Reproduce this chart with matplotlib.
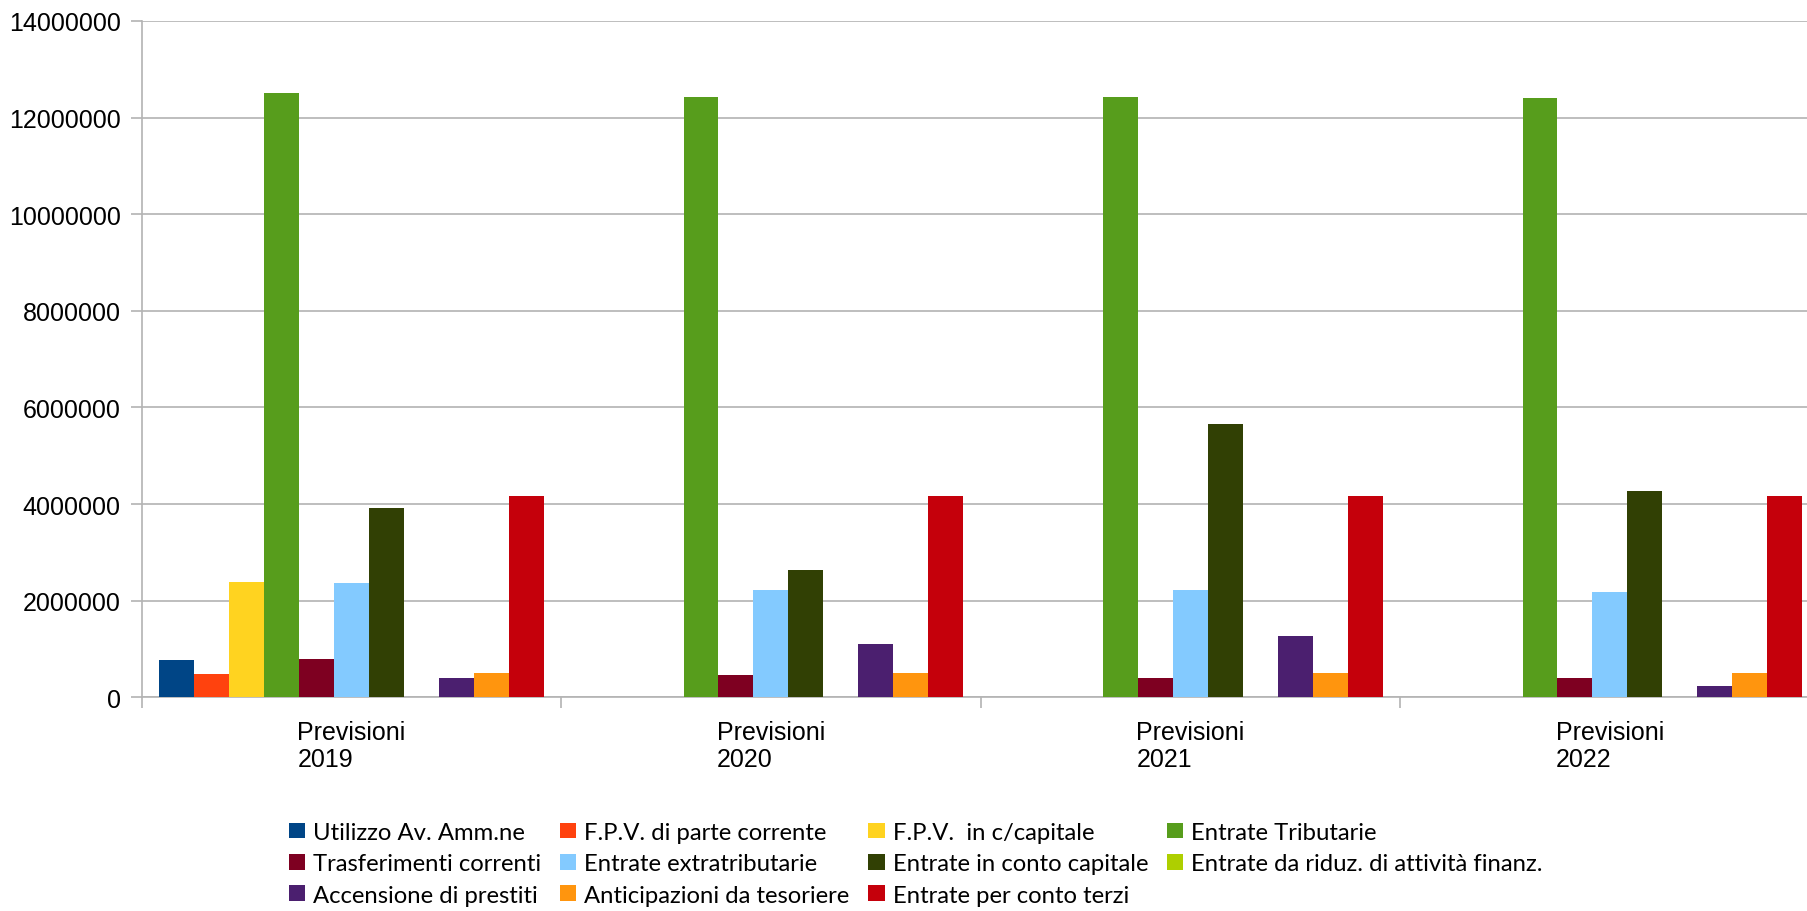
import numpy as np
import matplotlib
matplotlib.use('Agg')
import matplotlib.pyplot as plt

# categories and series
categories = ['Previsioni\n2019', 'Previsioni\n2020', 'Previsioni\n2021', 'Previsioni\n2022']
series_names = ['Utilizzo Av. Amm.ne', 'F.P.V. di parte corrente', 'F.P.V.  in c/capitale',
                'Entrate Tributarie', 'Trasferimenti correnti', 'Entrate extratributarie',
                'Entrate in conto capitale', 'Entrate da riduz. di attività finanz.',
                'Accensione di prestiti', 'Anticipazioni da tesoriere', 'Entrate per conto terzi']
series_colors = ['#004586', '#ff420e', '#ffd320', '#579d1c', '#7e0021', '#83caff',
                 '#314004', '#aecf00', '#4b1f6f', '#ff950e', '#c5000b']

utilizzo = [775000, 0, 0, 0]
fpv_corrente = [484000, 0, 0, 0]
fpv_capitale = [2388000, 0, 0, 0]
tributarie = [12509000, 12425000, 12425000, 12405000]
trasferimenti = [795000, 464000, 401000, 401000]
extratributarie = [2368000, 2223000, 2223000, 2181000]
conto_capitale = [3920000, 2637000, 5659000, 4271000]
riduz_attivita = [0, 0, 0, 0]
accensione = [401000, 1105000, 1271000, 236000]
anticipazioni = [505000, 505000, 505000, 505000]
conto_terzi = [4168000, 4168000, 4168000, 4168000]

values = [utilizzo, fpv_corrente, fpv_capitale, tributarie, trasferimenti, extratributarie,
          conto_capitale, riduz_attivita, accensione, anticipazioni, conto_terzi]

fig = plt.figure(figsize=(18.07, 9.12), dpi=100)
ax = fig.add_axes([0.0784, 0.2342, 0.9286, 0.7418])

x = np.arange(len(categories))
n = len(values)
w = 1.0 / (n + 1)
handles = []
for i, (name, vals, col) in enumerate(zip(series_names, values, series_colors)):
    b = ax.bar(x + (i - (n - 1) / 2) * w, vals, width=w, color=col, linewidth=0, label=name, zorder=3)
    handles.append(b)

ax.set_xlim(-0.5, len(categories) - 0.5)
ax.set_ylim(0, 14000000)
ax.set_yticks(np.arange(0, 14000001, 2000000))
ax.set_yticklabels([str(v) for v in range(0, 14000001, 2000000)], fontsize=18,
                   family='Liberation Sans')
ax.grid(axis='y', color='#b3b3b3', linewidth=1.2, zorder=0)

ax.set_xticks(x)
ax.set_xticklabels(categories, fontsize=18, family='Liberation Sans', multialignment='left')
ax.set_xticks(np.arange(-0.5, len(categories), 1.0), minor=True)
ax.tick_params(axis='x', which='major', length=0, pad=16)
ax.tick_params(axis='x', which='minor', length=8, color='#b3b3b3', width=1.2)
ax.tick_params(axis='y', length=8, color='#b3b3b3', width=1.2, pad=7)

for s in ['top', 'right']:
    ax.spines[s].set_visible(False)
for s in ['left', 'bottom']:
    ax.spines[s].set_color('#b3b3b3')
    ax.spines[s].set_linewidth(1.2)

# legend in rows of four (matplotlib fills columns, so reorder)
order = [0, 4, 8, 1, 5, 9, 2, 6, 10, 3, 7]
fig.legend([handles[k] for k in order], [series_names[k] for k in order],
           ncol=4, loc='upper left', bbox_to_anchor=(289 / 1807, 1 - 823 / 912),
           frameon=False, prop={'family': 'Lato', 'size': 17.2},
           handlelength=0.68, handleheight=0.64, handletextpad=0.34,
           columnspacing=0.78, labelspacing=0.43, borderpad=0, borderaxespad=0)

fig.savefig('out.png', dpi=100)
